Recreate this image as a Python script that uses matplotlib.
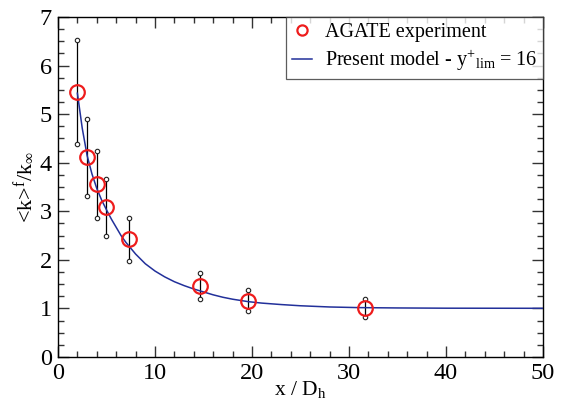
import numpy as np
import matplotlib
matplotlib.use("Agg")
import matplotlib.pyplot as plt
from matplotlib.ticker import MultipleLocator

plt.rcParams['font.family'] = ['Liberation Serif', 'DejaVu Serif']
plt.rcParams['mathtext.fontset'] = 'custom'
plt.rcParams['mathtext.rm'] = 'Liberation Serif'
plt.rcParams['mathtext.it'] = 'Liberation Serif'

# AGATE experiment
x_exp = [2.0, 3.0, 4.0, 5.0, 7.3, 14.6, 19.6, 31.7]
k_exp = [5.46, 4.12, 3.57, 3.08, 2.43, 1.46, 1.16, 1.00]
k_hi = [6.52, 4.90, 4.25, 3.67, 2.87, 1.72, 1.38, 1.19]
k_lo = [4.39, 3.32, 2.86, 2.49, 1.98, 1.19, 0.95, 0.83]

# present model curve
x_mod = [2.0, 2.5, 3.0, 3.5, 4.0, 4.5, 5.0, 5.5, 6.0, 6.5, 7.0, 8.0, 9.0,
         10.0, 11.0, 12.0, 13.0, 14.0, 15.0, 16.0, 17.0, 18.0, 19.6, 21.0,
         23.0, 25.0, 28.0, 31.0, 35.0, 40.0, 50.0]
k_mod = [5.43, 4.71, 4.15, 3.77, 3.47, 3.23, 3.03, 2.84, 2.67, 2.50, 2.36,
         2.12, 1.92, 1.77, 1.65, 1.55, 1.47, 1.40, 1.34, 1.28, 1.23, 1.19,
         1.14, 1.11, 1.08, 1.055, 1.03, 1.017, 1.01, 1.005, 1.003]

fig = plt.figure(figsize=(5.63, 4.04), dpi=100)
ax = fig.add_axes([0.103, 0.1163, 0.8615, 0.8417])

# error bars with small open circle ends
for xi, lo, hi in zip(x_exp, k_lo, k_hi):
    ax.plot([xi, xi], [lo, hi], color="black", lw=0.9, zorder=2)
ax.plot(x_exp + x_exp, k_lo + k_hi, ls="none", marker="o", ms=3.2,
        mfc="white", mec="#222222", mew=0.8, zorder=3)

ax.plot(x_mod, k_mod, color="#22309a", lw=1.1, zorder=4,
        label=r"Present model - y$^{+}{}_{\mathrm{lim}}$ = 16")
ax.plot(x_exp, k_exp, ls="none", marker="o", ms=10.5, mfc="none",
        mec="#ee1c1c", mew=1.6, zorder=5, label="AGATE experiment")

ax.set_xlim(0, 50)
ax.set_ylim(0, 7)
ax.xaxis.set_major_locator(MultipleLocator(10))
ax.xaxis.set_minor_locator(MultipleLocator(2))
ax.yaxis.set_major_locator(MultipleLocator(1))
ax.yaxis.set_minor_locator(MultipleLocator(0.25))
ax.tick_params(which="both", direction="in", top=True, right=True,
               labelsize=17.5, width=1.0, color="#333333")
ax.tick_params(axis="y", pad=4.5)
ax.tick_params(axis="x", pad=4)
ax.tick_params(which="major", length=8)
ax.tick_params(which="minor", length=4)
for s in ax.spines.values():
    s.set_linewidth(1.0)

ax.set_xlabel(r"x / D$_\mathrm{h}$", fontsize=15.5, labelpad=-3)
ax.set_ylabel(r"<k>$^\mathrm{f}$/k$_\infty$", fontsize=16, labelpad=2)

h, l = ax.get_legend_handles_labels()
leg = ax.legend(h[::-1], l[::-1], loc="upper right", fontsize=14.5,
                frameon=True, fancybox=False, borderaxespad=0,
                handlelength=1.0, handletextpad=0.6, borderpad=0.3,
                labelspacing=0.3, markerscale=0.7)
leg.get_frame().set_edgecolor("#333333")
leg.get_frame().set_linewidth(0.9)

fig.savefig("out.png", dpi=100)
